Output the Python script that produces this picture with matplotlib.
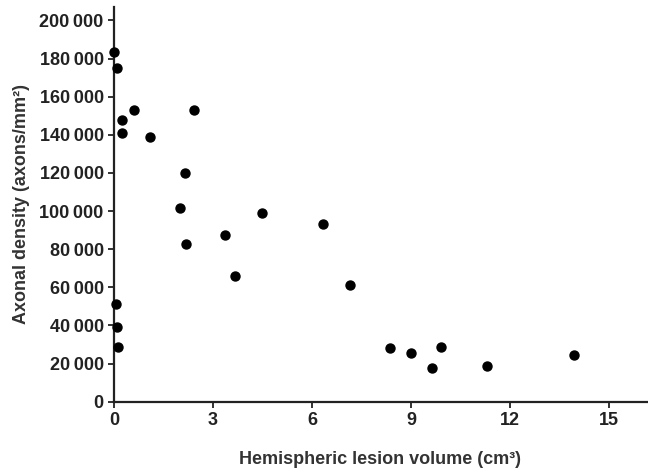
import matplotlib
matplotlib.use('Agg')
import matplotlib.pyplot as plt
from matplotlib.ticker import FuncFormatter

# lesion volume (cm3) and axonal density (axons/mm2)
volume = [0.01, 0.09, 0.24, 0.24, 0.6, 1.1, 2.42, 2.15, 2.0, 3.35, 2.17, 3.68,
          0.05, 0.08, 0.13, 4.5, 6.35, 7.16, 8.38, 9.0, 9.9, 9.65, 11.3, 13.94]
density = [183400, 174800, 147900, 140700, 153100, 139100, 153100, 120000, 101500,
           87300, 82800, 66100, 51300, 39400, 28900, 99200, 93400, 61400, 28000,
           25700, 28900, 17500, 18900, 24700]

x_ticks = [0, 3, 6, 9, 12, 15]
y_ticks = list(range(0, 200001, 20000))

plt.rcParams['font.family'] = ['Liberation Sans', 'DejaVu Sans']

fig = plt.figure(figsize=(6.48, 4.74), dpi=100)
ax = fig.add_axes([0.176, 0.1525, 0.822, 0.8325])

ax.scatter(volume, density, s=42, color='black', zorder=3, clip_on=False)

ax.set_xlim(0, 16.15)
ax.set_ylim(0, 207000)
ax.set_xticks(x_ticks)
ax.set_yticks(y_ticks)
ax.yaxis.set_major_formatter(FuncFormatter(
    lambda v, p: '{:,}'.format(int(v)).replace(',', '\u2009')))

for s in ['top', 'right']:
    ax.spines[s].set_visible(False)
for s in ['left', 'bottom']:
    ax.spines[s].set_linewidth(1.6)
    ax.spines[s].set_color('#222222')

ax.tick_params(direction='out', length=4.5, width=1.3, color='#222222',
               labelsize=13, labelcolor='#222222', pad=3)
for lab in ax.get_xticklabels() + ax.get_yticklabels():
    lab.set_fontweight('bold')

ax.set_xlabel('Hemispheric lesion volume (cm\u00b3)', fontsize=13, fontweight='bold',
              color='#333333', labelpad=16)
ax.set_ylabel('Axonal density (axons/mm\u00b2)', fontsize=13, fontweight='bold',
              color='#333333', labelpad=7)

fig.savefig('out.png', dpi=100)
